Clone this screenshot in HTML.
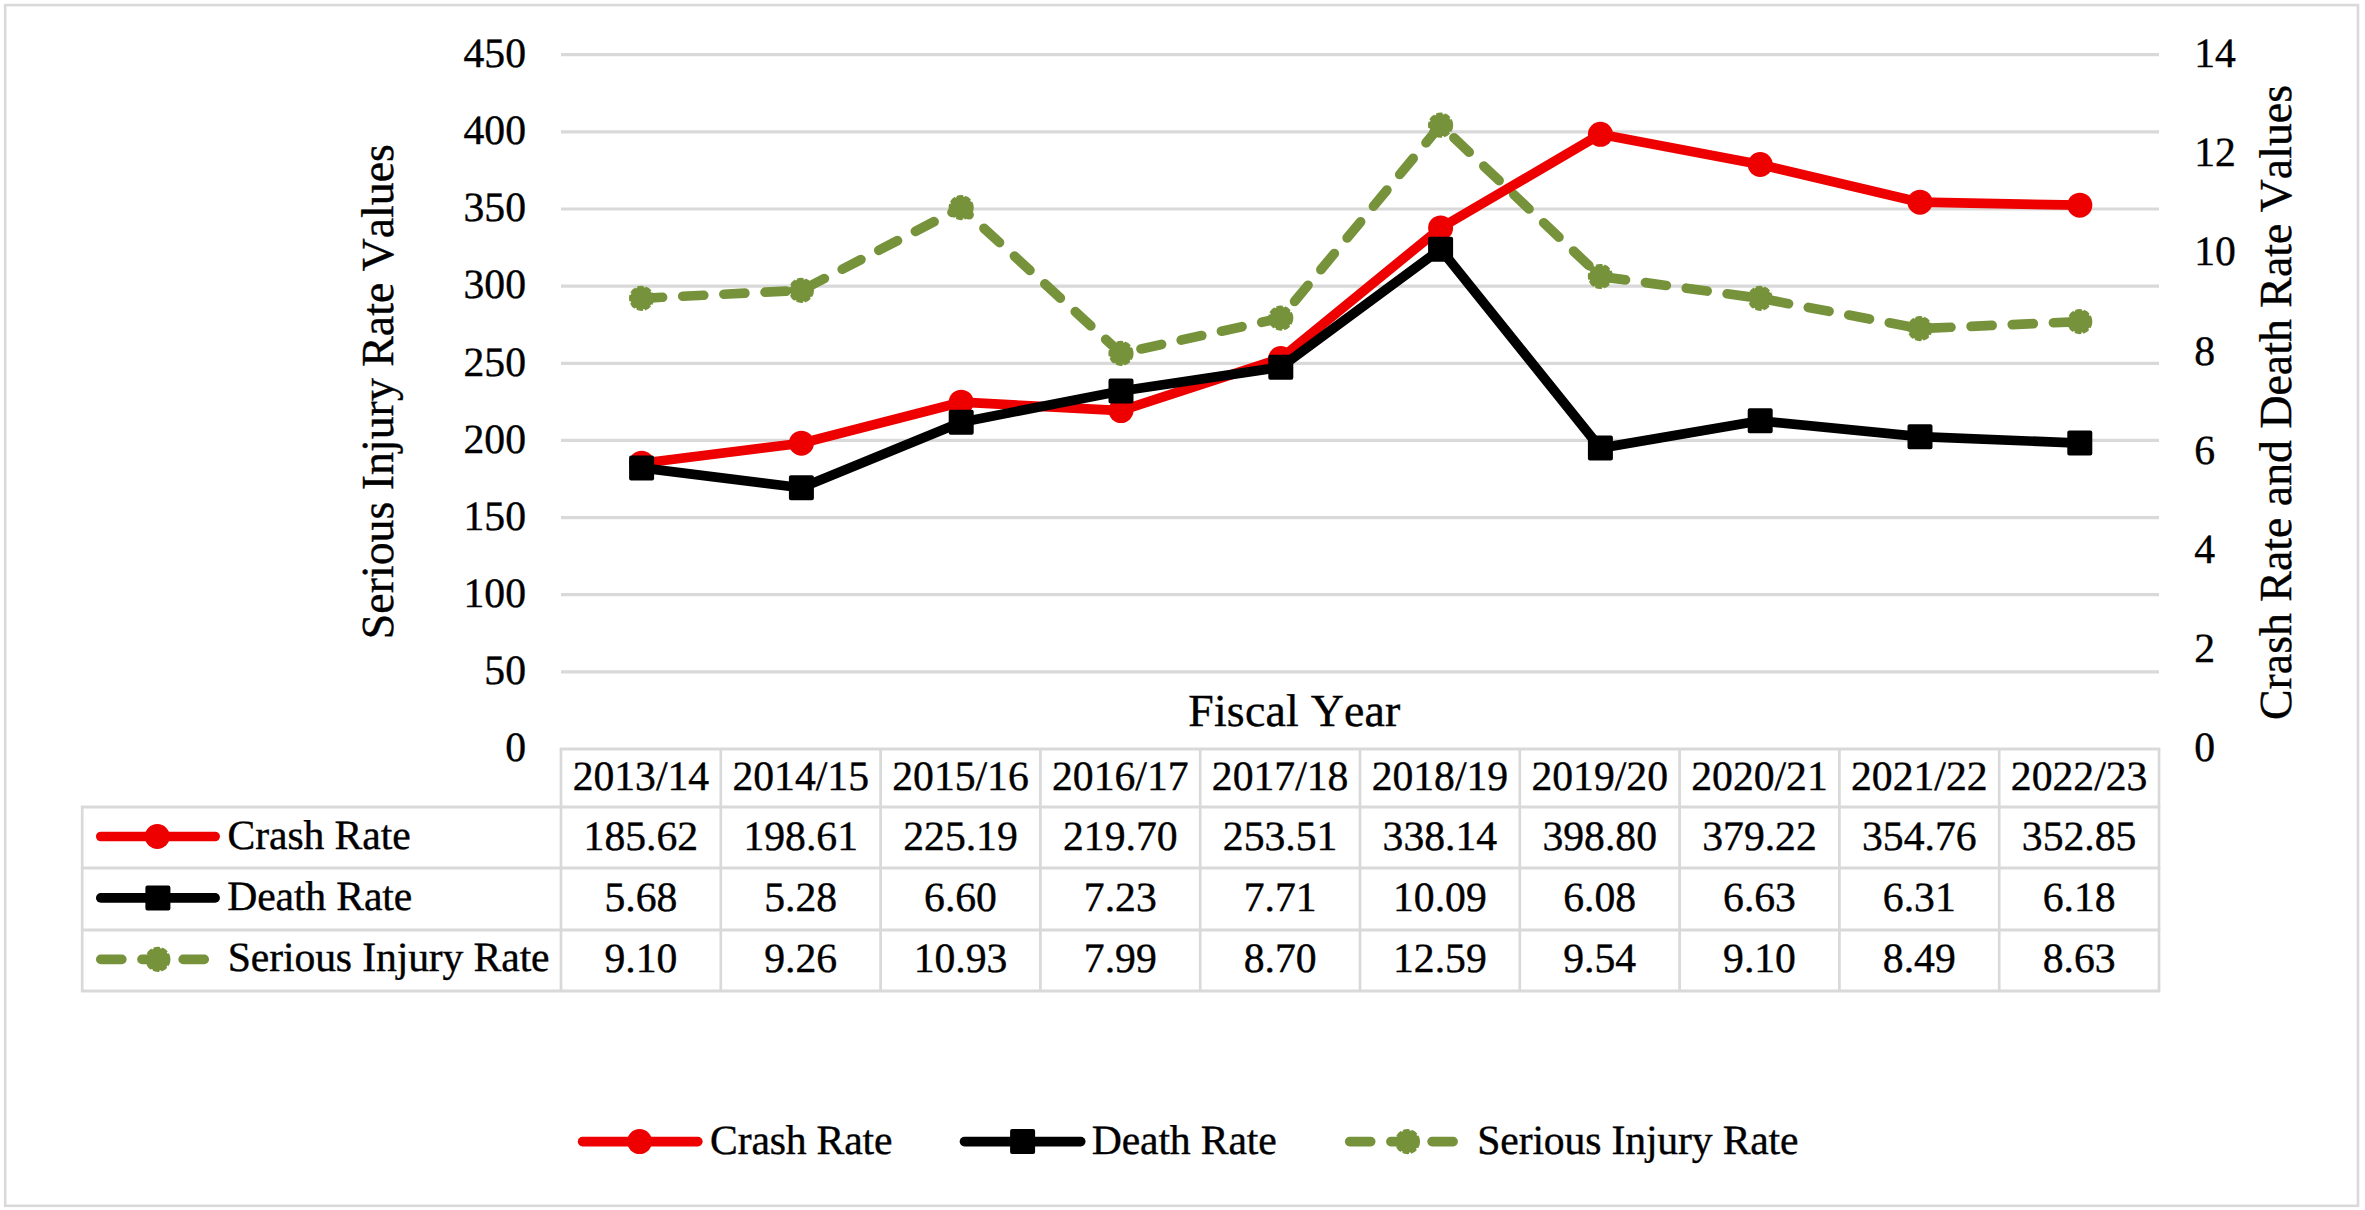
<!DOCTYPE html>
<html lang="en"><head><meta charset="utf-8"><title>Crash, Death and Serious Injury Rates by Fiscal Year</title>
<style>html,body{margin:0;padding:0;background:#fff}body{width:2365px;height:1210px;overflow:hidden}svg{display:block}text{font-family:"Liberation Serif",serif;fill:#000;stroke:#000;stroke-width:0.4px;font-kerning:none;font-variant-ligatures:none;text-rendering:geometricPrecision}.t{font-size:41.67px}.a{font-size:45.83px}</style></head><body>
<svg width="2365" height="1210" viewBox="0 0 2365 1210">
<rect x="0" y="0" width="2365" height="1210" fill="#fff"/>
<rect x="5.2" y="5.1" width="2352.8" height="1200.7" fill="none" stroke="#d9d9d9" stroke-width="2.6"/>
<g stroke="#d9d9d9" stroke-width="2.7" fill="none">
<line stroke-width="3.2" x1="561.0" y1="671.86" x2="2159.0" y2="671.86"/>
<line stroke-width="3.2" x1="561.0" y1="594.71" x2="2159.0" y2="594.71"/>
<line stroke-width="3.2" x1="561.0" y1="517.57" x2="2159.0" y2="517.57"/>
<line stroke-width="3.2" x1="561.0" y1="440.42" x2="2159.0" y2="440.42"/>
<line stroke-width="3.2" x1="561.0" y1="363.28" x2="2159.0" y2="363.28"/>
<line stroke-width="3.2" x1="561.0" y1="286.13" x2="2159.0" y2="286.13"/>
<line stroke-width="3.2" x1="561.0" y1="208.99" x2="2159.0" y2="208.99"/>
<line stroke-width="3.2" x1="561.0" y1="131.84" x2="2159.0" y2="131.84"/>
<line stroke-width="3.2" x1="561.0" y1="54.70" x2="2159.0" y2="54.70"/>
<path stroke-width="3.2" d="M559.7 749.0 H2160.3"/>
<path stroke-width="3.2" d="M80.9 807.0 H2160.3"/>
<path stroke-width="3.2" d="M80.9 868.0 H2160.3"/>
<path stroke-width="3.2" d="M80.9 930.0 H2160.3"/>
<path stroke-width="3.2" d="M80.9 991.0 H2160.3"/>
<path d="M561.0 749.0 V991.0"/>
<path d="M720.8 749.0 V991.0"/>
<path d="M880.6 749.0 V991.0"/>
<path d="M1040.4 749.0 V991.0"/>
<path d="M1200.2 749.0 V991.0"/>
<path d="M1360.0 749.0 V991.0"/>
<path d="M1519.8 749.0 V991.0"/>
<path d="M1679.6 749.0 V991.0"/>
<path d="M1839.4 749.0 V991.0"/>
<path d="M1999.2 749.0 V991.0"/>
<path d="M2159.0 749.0 V991.0"/>
<path d="M82.2 807.0 V991.0"/>
</g>
<g class="t" text-anchor="end">
<text x="526" y="761.2">0</text>
<text x="526" y="684.1">50</text>
<text x="526" y="606.9">100</text>
<text x="526" y="529.8">150</text>
<text x="526" y="452.6">200</text>
<text x="526" y="375.5">250</text>
<text x="526" y="298.3">300</text>
<text x="526" y="221.2">350</text>
<text x="526" y="144.0">400</text>
<text x="526" y="66.9">450</text>
</g>
<g class="t">
<text x="2194.2" y="761.2">0</text>
<text x="2194.2" y="662.0">2</text>
<text x="2194.2" y="562.8">4</text>
<text x="2194.2" y="463.6">6</text>
<text x="2194.2" y="364.5">8</text>
<text x="2194.2" y="265.3">10</text>
<text x="2194.2" y="166.1">12</text>
<text x="2194.2" y="66.9">14</text>
</g>
<text class="a" text-anchor="middle" transform="translate(392.9 391.6) rotate(-90)">Serious Injury Rate Values</text>
<text class="a" text-anchor="middle" transform="translate(2291.1 402.5) rotate(-90)">Crash Rate and Death Rate Values</text>
<text class="a" text-anchor="middle" x="1294.4" y="726.1" style="letter-spacing:0.22px">Fiscal Year</text>
<g class="t" text-anchor="middle">
<text x="640.9" y="789.5">2013/14</text>
<text x="800.7" y="789.5">2014/15</text>
<text x="960.5" y="789.5">2015/16</text>
<text x="1120.3" y="789.5">2016/17</text>
<text x="1280.1" y="789.5">2017/18</text>
<text x="1439.9" y="789.5">2018/19</text>
<text x="1599.7" y="789.5">2019/20</text>
<text x="1759.5" y="789.5">2020/21</text>
<text x="1919.3" y="789.5">2021/22</text>
<text x="2079.1" y="789.5">2022/23</text>
<text x="640.9" y="849.5">185.62</text>
<text x="800.7" y="849.5">198.61</text>
<text x="960.5" y="849.5">225.19</text>
<text x="1120.3" y="849.5">219.70</text>
<text x="1280.1" y="849.5">253.51</text>
<text x="1439.9" y="849.5">338.14</text>
<text x="1599.7" y="849.5">398.80</text>
<text x="1759.5" y="849.5">379.22</text>
<text x="1919.3" y="849.5">354.76</text>
<text x="2079.1" y="849.5">352.85</text>
<text x="640.9" y="910.6">5.68</text>
<text x="800.7" y="910.6">5.28</text>
<text x="960.5" y="910.6">6.60</text>
<text x="1120.3" y="910.6">7.23</text>
<text x="1280.1" y="910.6">7.71</text>
<text x="1439.9" y="910.6">10.09</text>
<text x="1599.7" y="910.6">6.08</text>
<text x="1759.5" y="910.6">6.63</text>
<text x="1919.3" y="910.6">6.31</text>
<text x="2079.1" y="910.6">6.18</text>
<text x="640.9" y="971.7">9.10</text>
<text x="800.7" y="971.7">9.26</text>
<text x="960.5" y="971.7">10.93</text>
<text x="1120.3" y="971.7">7.99</text>
<text x="1280.1" y="971.7">8.70</text>
<text x="1439.9" y="971.7">12.59</text>
<text x="1599.7" y="971.7">9.54</text>
<text x="1759.5" y="971.7">9.10</text>
<text x="1919.3" y="971.7">8.49</text>
<text x="2079.1" y="971.7">8.63</text>
</g>
<g class="t">
<text x="227.5" y="848.6" style="letter-spacing:-0.08px">Crash Rate</text>
<text x="227.3" y="910.0" style="letter-spacing:-0.15px">Death Rate</text>
<text x="227.8" y="971.4" style="letter-spacing:-0.12px">Serious Injury Rate</text>
</g>
<polyline points="641.6,298.3 801.4,290.4 961.2,207.6 1121.0,353.4 1280.8,318.1 1440.6,125.2 1600.4,276.5 1760.2,298.3 1920.0,328.6 2079.8,321.6" fill="none" stroke="#76933c" stroke-width="9.7" stroke-linecap="round" stroke-linejoin="round" stroke-dasharray="21 20.2"/>
<circle cx="641.6" cy="298.3" r="11.3" fill="#76933c" stroke="#76933c" stroke-width="2.6" stroke-dasharray="6.3 1.8"/>
<circle cx="801.4" cy="290.4" r="11.3" fill="#76933c" stroke="#76933c" stroke-width="2.6" stroke-dasharray="6.3 1.8"/>
<circle cx="961.2" cy="207.6" r="11.3" fill="#76933c" stroke="#76933c" stroke-width="2.6" stroke-dasharray="6.3 1.8"/>
<circle cx="1121.0" cy="353.4" r="11.3" fill="#76933c" stroke="#76933c" stroke-width="2.6" stroke-dasharray="6.3 1.8"/>
<circle cx="1280.8" cy="318.1" r="11.3" fill="#76933c" stroke="#76933c" stroke-width="2.6" stroke-dasharray="6.3 1.8"/>
<circle cx="1440.6" cy="125.2" r="11.3" fill="#76933c" stroke="#76933c" stroke-width="2.6" stroke-dasharray="6.3 1.8"/>
<circle cx="1600.4" cy="276.5" r="11.3" fill="#76933c" stroke="#76933c" stroke-width="2.6" stroke-dasharray="6.3 1.8"/>
<circle cx="1760.2" cy="298.3" r="11.3" fill="#76933c" stroke="#76933c" stroke-width="2.6" stroke-dasharray="6.3 1.8"/>
<circle cx="1920.0" cy="328.6" r="11.3" fill="#76933c" stroke="#76933c" stroke-width="2.6" stroke-dasharray="6.3 1.8"/>
<circle cx="2079.8" cy="321.6" r="11.3" fill="#76933c" stroke="#76933c" stroke-width="2.6" stroke-dasharray="6.3 1.8"/>
<polyline points="641.6,463.2 801.4,443.2 961.2,402.2 1121.0,410.6 1280.8,358.5 1440.6,227.9 1600.4,134.3 1760.2,164.5 1920.0,202.2 2079.8,205.2" fill="none" stroke="#ee0000" stroke-width="9.7" stroke-linecap="round" stroke-linejoin="round"/>
<circle cx="641.6" cy="463.2" r="12.5" fill="#ee0000"/>
<circle cx="801.4" cy="443.2" r="12.5" fill="#ee0000"/>
<circle cx="961.2" cy="402.2" r="12.5" fill="#ee0000"/>
<circle cx="1121.0" cy="410.6" r="12.5" fill="#ee0000"/>
<circle cx="1280.8" cy="358.5" r="12.5" fill="#ee0000"/>
<circle cx="1440.6" cy="227.9" r="12.5" fill="#ee0000"/>
<circle cx="1600.4" cy="134.3" r="12.5" fill="#ee0000"/>
<circle cx="1760.2" cy="164.5" r="12.5" fill="#ee0000"/>
<circle cx="1920.0" cy="202.2" r="12.5" fill="#ee0000"/>
<circle cx="2079.8" cy="205.2" r="12.5" fill="#ee0000"/>
<polyline points="641.6,467.9 801.4,487.7 961.2,422.3 1121.0,391.0 1280.8,367.2 1440.6,249.2 1600.4,448.1 1760.2,420.8 1920.0,436.7 2079.8,443.1" fill="none" stroke="#000000" stroke-width="9.7" stroke-linecap="round" stroke-linejoin="round"/>
<rect x="631.1" y="457.4" width="21" height="21" fill="#000000" stroke="#000000" stroke-width="4" stroke-linejoin="round"/>
<rect x="790.9" y="477.2" width="21" height="21" fill="#000000" stroke="#000000" stroke-width="4" stroke-linejoin="round"/>
<rect x="950.7" y="411.8" width="21" height="21" fill="#000000" stroke="#000000" stroke-width="4" stroke-linejoin="round"/>
<rect x="1110.5" y="380.5" width="21" height="21" fill="#000000" stroke="#000000" stroke-width="4" stroke-linejoin="round"/>
<rect x="1270.3" y="356.7" width="21" height="21" fill="#000000" stroke="#000000" stroke-width="4" stroke-linejoin="round"/>
<rect x="1430.1" y="238.7" width="21" height="21" fill="#000000" stroke="#000000" stroke-width="4" stroke-linejoin="round"/>
<rect x="1589.9" y="437.6" width="21" height="21" fill="#000000" stroke="#000000" stroke-width="4" stroke-linejoin="round"/>
<rect x="1749.7" y="410.3" width="21" height="21" fill="#000000" stroke="#000000" stroke-width="4" stroke-linejoin="round"/>
<rect x="1909.5" y="426.2" width="21" height="21" fill="#000000" stroke="#000000" stroke-width="4" stroke-linejoin="round"/>
<rect x="2069.3" y="432.6" width="21" height="21" fill="#000000" stroke="#000000" stroke-width="4" stroke-linejoin="round"/>
<line x1="100.8" y1="836.5" x2="215.1" y2="836.5" stroke="#ee0000" stroke-width="9.7" stroke-linecap="round"/>
<circle cx="157.3" cy="836.5" r="12.5" fill="#ee0000"/>
<line x1="100.8" y1="897.9" x2="215.1" y2="897.9" stroke="#000000" stroke-width="9.7" stroke-linecap="round"/>
<rect x="147.4" y="887.4" width="21" height="21" fill="#000000" stroke="#000000" stroke-width="4" stroke-linejoin="round"/>
<line x1="100.8" y1="959.4" x2="215.1" y2="959.4" stroke="#76933c" stroke-width="9.7" stroke-linecap="round" stroke-dasharray="21 20.2"/>
<circle cx="157.9" cy="959.4" r="11.3" fill="#76933c" stroke="#76933c" stroke-width="2.6" stroke-dasharray="6.3 1.8"/>
<line x1="582.6" y1="1141.6" x2="697.8" y2="1141.6" stroke="#ee0000" stroke-width="9.7" stroke-linecap="round"/>
<circle cx="639.6" cy="1141.6" r="12.5" fill="#ee0000"/>
<line x1="964.5" y1="1141.6" x2="1080.7" y2="1141.6" stroke="#000000" stroke-width="9.7" stroke-linecap="round"/>
<rect x="1012.1" y="1131.1" width="21" height="21" fill="#000000" stroke="#000000" stroke-width="4" stroke-linejoin="round"/>
<line x1="1349.7" y1="1141.6" x2="1465.3" y2="1141.6" stroke="#76933c" stroke-width="9.7" stroke-linecap="round" stroke-dasharray="21 20.2"/>
<circle cx="1407.5" cy="1141.6" r="11.3" fill="#76933c" stroke="#76933c" stroke-width="2.6" stroke-dasharray="6.3 1.8"/>
<g class="t">
<text x="710.1" y="1154.0" style="letter-spacing:-0.18px">Crash Rate</text>
<text x="1091.8" y="1154.0" style="letter-spacing:-0.15px">Death Rate</text>
<text x="1477.3" y="1154.0" style="letter-spacing:-0.15px">Serious Injury Rate</text>
</g>
</svg></body></html>
